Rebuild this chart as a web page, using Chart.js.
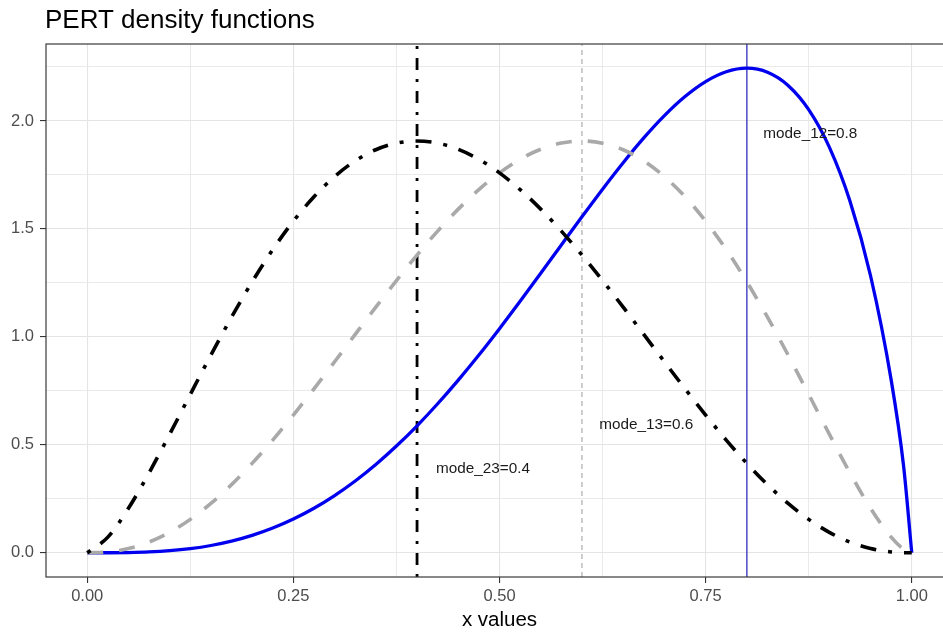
<!DOCTYPE html>
<html><head><meta charset="utf-8">
<script src="https://cdn.jsdelivr.net/npm/chart.js@4.4.0/dist/chart.umd.min.js"></script>
<style>html,body{margin:0;padding:0;overflow:hidden;background:#fff}#wrap{width:953px;height:632px;position:relative}</style>
</head><body><div id="wrap"><canvas id="c" width="953" height="632"></canvas></div>
<script>
const xValues = [0,0.025,0.05,0.075,0.1,0.125,0.15,0.175,0.2,0.225,0.25,0.275,0.3,0.325,0.35,0.375,0.4,0.425,0.45,0.475,0.5,0.525,0.55,0.575,0.6,0.625,0.65,0.675,0.7,0.725,0.75,0.775,0.8,0.825,0.85,0.875,0.9,0.925,0.95,0.975,0.99,1];
const mode04 = [0,0.0724,0.2063,0.3702,0.5493,0.7336,0.9160,1.0912,1.2550,1.4041,1.5361,1.6493,1.7426,1.8151,1.8667,1.8972,1.9073,1.8975,1.8688,1.8224,1.7597,1.6823,1.5917,1.4899,1.3790,1.2608,1.1376,1.0115,0.8847,0.7595,0.6379,0.5220,0.4140,0.3156,0.2287,0.1546,0.0947,0.0496,0.0196,0.0039,0.0004,0];
const mode06 = [0,0.0039,0.0196,0.0496,0.0947,0.1546,0.2287,0.3156,0.4140,0.5220,0.6379,0.7595,0.8847,1.0115,1.1376,1.2608,1.3790,1.4899,1.5917,1.6823,1.7597,1.8224,1.8688,1.8975,1.9073,1.8972,1.8667,1.8151,1.7426,1.6493,1.5361,1.4041,1.2550,1.0912,0.9160,0.7336,0.5493,0.3702,0.2063,0.0724,0.0173,0];
const mode08 = [0,0.0001,0.0011,0.0039,0.0096,0.0192,0.0337,0.0539,0.0806,0.1145,0.1563,0.2063,0.2650,0.3326,0.4090,0.4943,0.5881,0.6902,0.7998,0.9161,1.0381,1.1648,1.2945,1.4257,1.5564,1.6843,1.8069,1.9216,2.0248,2.1132,2.1824,2.2279,2.2443,2.2257,2.1647,2.0527,1.8791,1.6296,1.2831,0.8008,0.404,0];
const modes = [0.4, 0.6, 0.8];
const labelText = ["mode_23=0.4", "mode_13=0.6", "mode_12=0.8"];
const labelX = [0.48, 0.678, 0.877];
const labelY = [0.39, 0.594, 1.94];
const xTickValues = [0, 0.25, 0.5, 0.75, 1];
const xTickLabels = ["0.00", "0.25", "0.50", "0.75", "1.00"];
const xMinorValues = [0.125, 0.375, 0.625, 0.875];
const yTickValues = [0, 0.5, 1, 1.5, 2];
const yTickLabels = ["0.0", "0.5", "1.0", "1.5", "2.0"];
const yMinorValues = [0.25, 0.75, 1.25, 1.75, 2.25];
const titleText = "PERT density functions";
const xTitle = "x values";

const X_MIN = -0.05, X_MAX = 1.05, Y_MIN = -0.1122, Y_MAX = 2.3565;
const FONT = '"Liberation Sans", Arial, sans-serif';

function curve(ys){ return xValues.map((x,i)=>({x:x, y:ys[i]})); }
function vline(m){ return [{x:m,y:Y_MIN},{x:m,y:Y_MAX}]; }

const isMajorX = v => xTickValues.some(t=>Math.abs(t-v)<1e-9);
const isMajorY = v => yTickValues.some(t=>Math.abs(t-v)<1e-9);

const textPlugin = {
  id:'texts',
  afterDatasetsDraw(chart){
    const c = chart.ctx, xs = chart.scales.x, ys = chart.scales.y;
    c.save();
    c.fillStyle = '#1a1a1a';
    c.font = '15.3px ' + FONT;
    c.textAlign = 'center'; c.textBaseline = 'middle';
    for (let i=0;i<labelText.length;i++){
      c.fillText(labelText[i], xs.getPixelForValue(labelX[i]), ys.getPixelForValue(labelY[i]));
    }
    c.restore();
  },
  afterDraw(chart){
    const c = chart.ctx, a = chart.chartArea;
    c.save();
    c.strokeStyle = '#3a3a3a'; c.lineWidth = 1.2;
    c.strokeRect(a.left, a.top, a.right - a.left, a.bottom - a.top);
    c.fillStyle = '#000';
    c.font = '26px ' + FONT;
    c.textAlign = 'left'; c.textBaseline = 'alphabetic';
    c.fillText(titleText, 45, 28);
    c.font = '20.5px ' + FONT;
    c.textAlign = 'center';
    c.fillText(xTitle, (a.left + a.right)/2, 626);
    c.restore();
  }
};

new Chart(document.getElementById('c').getContext('2d'), {
  type:'line',
  data:{datasets:[
    {data:curve(mode04), borderColor:'#000000', borderWidth:3.6, borderDash:[4,12,16,12], pointRadius:0, cubicInterpolationMode:'monotone', order:1},
    {data:curve(mode06), borderColor:'#a9a9a9', borderWidth:3.6, borderDash:[16,16], pointRadius:0, cubicInterpolationMode:'monotone', order:2},
    {data:curve(mode08), borderColor:'#0000ee', borderWidth:3.3, pointRadius:0, cubicInterpolationMode:'monotone', order:3},
    {data:vline(modes[0]), borderColor:'#000000', borderWidth:2.8, borderDash:[3,9,12,9], pointRadius:0, order:4},
    {data:vline(modes[1]), borderColor:'#adadad', borderWidth:1.2, borderDash:[5,4], pointRadius:0, order:5},
    {data:vline(modes[2]), borderColor:'#3b3bc0', borderWidth:1.4, pointRadius:0, order:6}
  ]},
  options:{
    responsive:false, animation:false, devicePixelRatio:1,
    layout:{padding:{top:44,left:0,right:0,bottom:0}},
    plugins:{legend:{display:false}, tooltip:{enabled:false}, title:{display:false}},
    scales:{
      x:{type:'linear', min:X_MIN, max:X_MAX,
        afterBuildTicks:s=>{ s.ticks = xTickValues.concat(xMinorValues).sort((p,q)=>p-q).map(v=>({value:v})); },
        afterFit:s=>{ s.height = 55; },
        border:{display:false},
        grid:{color:'#e4e4e4', lineWidth:ctx=> isMajorX(ctx.tick.value)?1.1:0.8,
              tickColor:ctx=> isMajorX(ctx.tick.value)?'#333333':'rgba(0,0,0,0)', tickLength:6, tickWidth:1.1},
        ticks:{autoSkip:false, maxRotation:0, padding:4, color:'#4d4d4d', font:{family:FONT, size:16.5},
          callback:(v)=>{ const i = xTickValues.findIndex(t=>Math.abs(t-v)<1e-9); return i>=0 ? xTickLabels[i] : ''; }}
      },
      y:{type:'linear', min:Y_MIN, max:Y_MAX,
        afterBuildTicks:s=>{ s.ticks = yTickValues.concat(yMinorValues).sort((p,q)=>p-q).map(v=>({value:v})); },
        afterFit:s=>{ s.width = 46; },
        border:{display:false},
        grid:{color:'#e4e4e4', lineWidth:ctx=> isMajorY(ctx.tick.value)?1.1:0.8,
              tickColor:ctx=> isMajorY(ctx.tick.value)?'#333333':'rgba(0,0,0,0)', tickLength:6, tickWidth:1.1},
        ticks:{autoSkip:false, padding:6, color:'#4d4d4d', font:{family:FONT, size:16.5},
          callback:(v)=>{ const i = yTickValues.findIndex(t=>Math.abs(t-v)<1e-9); return i>=0 ? yTickLabels[i] : ''; }}
      }
    }
  },
  plugins:[textPlugin]
});
</script></body></html>
